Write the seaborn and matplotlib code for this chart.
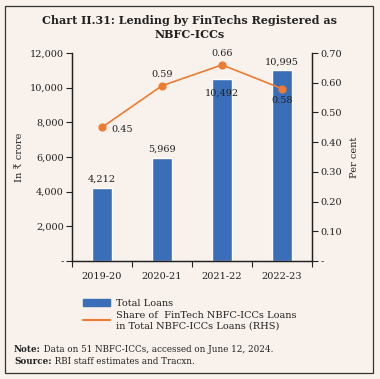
import numpy as np
import pandas as pd
import matplotlib
matplotlib.use("Agg")
import matplotlib.pyplot as plt
from matplotlib.patches import Rectangle
from matplotlib.lines import Line2D
from matplotlib.ticker import FuncFormatter, MultipleLocator, FixedLocator
import seaborn as sns

years = ["2019-20", "2020-21", "2021-22", "2022-23"]
total_loans = [4212, 5969, 10492, 10995]
share_pct = [0.45, 0.59, 0.66, 0.58]

bg = "#f8f1ec"
bar_col = "#3b6eb8"
line_col = "#ef7b30"
txt = "#222222"

sns.set_theme(style="white")
plt.rcParams["font.family"] = ["DejaVu Serif", "DejaVu Sans"]
plt.rcParams["text.color"] = txt
plt.rcParams["axes.labelcolor"] = txt
plt.rcParams["xtick.color"] = txt
plt.rcParams["ytick.color"] = txt

df = pd.DataFrame({"year": years, "loans": total_loans, "share": share_pct})

fig = plt.figure(figsize=(3.8, 3.79), dpi=100, facecolor=bg)
fig.patches.append(Rectangle((5 / 380, 6 / 379), 368 / 380, 367 / 379, transform=fig.transFigure,
                             fill=False, edgecolor="#333333", linewidth=0.9))

ax = fig.add_axes([72 / 380, 1 - 261 / 379, 240 / 380, 208 / 379])
ax.set_facecolor(bg)
sns.barplot(data=df, x="year", y="loans", color=bar_col, width=0.32, saturation=1, ax=ax)
ax.set_xlim(-0.5, 3.5)
ax.set_ylim(0, 12000)
ax.yaxis.set_major_locator(MultipleLocator(2000))
ax.yaxis.set_major_formatter(FuncFormatter(lambda v, p: "-" if v == 0 else f"{v:,.0f}"))
ax.set_xlabel("")
ax.set_ylabel("In ₹ crore", fontsize=7, labelpad=4)
ax.tick_params(axis="y", length=4, width=0.8, labelsize=7, pad=2, direction="out", left=True)
ax.tick_params(axis="x", which="major", length=0, labelsize=7, pad=8)
ax.xaxis.set_minor_locator(FixedLocator([-0.5, 0.5, 1.5, 2.5, 3.5]))
ax.tick_params(axis="x", which="minor", length=4, width=0.8, direction="out", bottom=True)
ax.spines["top"].set_visible(False)
for s in ["left", "bottom", "right"]:
    ax.spines[s].set_color("#222222")
    ax.spines[s].set_linewidth(0.9)

for i, v in enumerate(total_loans):
    off = -13 if i == 2 else 3
    ax.annotate(f"{v:,}", (i, v), xytext=(0, off), textcoords="offset points",
                ha="center", va="bottom", fontsize=7)

ax2 = ax.twinx()
sns.pointplot(data=df, x="year", y="share", color=line_col, markers="o", linewidth=1.2,
              markersize=5, ax=ax2)
ax2.set_xlim(-0.5, 3.5)
ax2.set_ylim(0, 0.70)
ax2.yaxis.set_major_locator(MultipleLocator(0.10))
ax2.yaxis.set_major_formatter(FuncFormatter(lambda v, p: "-" if abs(v) < 1e-9 else f"{v:.2f}"))
ax2.set_ylabel("Per cent", fontsize=7, labelpad=6)
ax2.set_xlabel("")
ax2.tick_params(axis="y", length=4, width=0.8, labelsize=7, pad=2, direction="out", right=True)
ax2.spines["top"].set_visible(False)
for s in ["left", "bottom", "right"]:
    ax2.spines[s].set_color("#222222")
    ax2.spines[s].set_linewidth(0.9)

share_offsets = [(7, -5, "left"), (0, 5, "center"), (0, 5, "center"), (0, -12, "center")]
for i, v in enumerate(share_pct):
    dx, dy, ha = share_offsets[i]
    ax2.annotate(f"{v:.2f}", (i, v), xytext=(dx, dy), textcoords="offset points",
                 ha=ha, va="bottom", fontsize=7)

fig.text(0.5, 1 - 20 / 379, "Chart II.31: Lending by FinTechs Registered as", ha="center", va="center",
         fontsize=8, fontweight="bold")
fig.text(0.5, 1 - 35 / 379, "NBFC-ICCs", ha="center", va="center", fontsize=8, fontweight="bold")

handles = [Rectangle((0, 0), 1, 1, color=bar_col),
           Line2D([0], [0], color=line_col, linewidth=1.5)]
labels = ["Total Loans", "Share of  FinTech NBFC-ICCs Loans\nin Total NBFC-ICCs Loans (RHS)"]
fig.legend(handles, labels, loc="upper left", bbox_to_anchor=(74 / 380, 1 - 290 / 379), frameon=False,
           fontsize=7, handlelength=2.8, handleheight=0.8, labelspacing=0.3, handletextpad=0.6)

# footnote: bold label, then plain text right after it
note = fig.text(14 / 380, 1 - 350 / 379, "Note:", fontsize=6.3, fontweight="bold", va="center")
src = fig.text(14 / 380, 1 - 362 / 379, "Source:", fontsize=6.3, fontweight="bold", va="center")
ax.annotate(" Data on 51 NBFC-ICCs, accessed on June 12, 2024.", xy=(1, 0.5), xycoords=note,
            va="center", ha="left", fontsize=6.3, annotation_clip=False)
ax.annotate(" RBI staff estimates and Tracxn.", xy=(1, 0.5), xycoords=src,
            va="center", ha="left", fontsize=6.3, annotation_clip=False)

fig.savefig("out.png", dpi=100, facecolor=bg)
